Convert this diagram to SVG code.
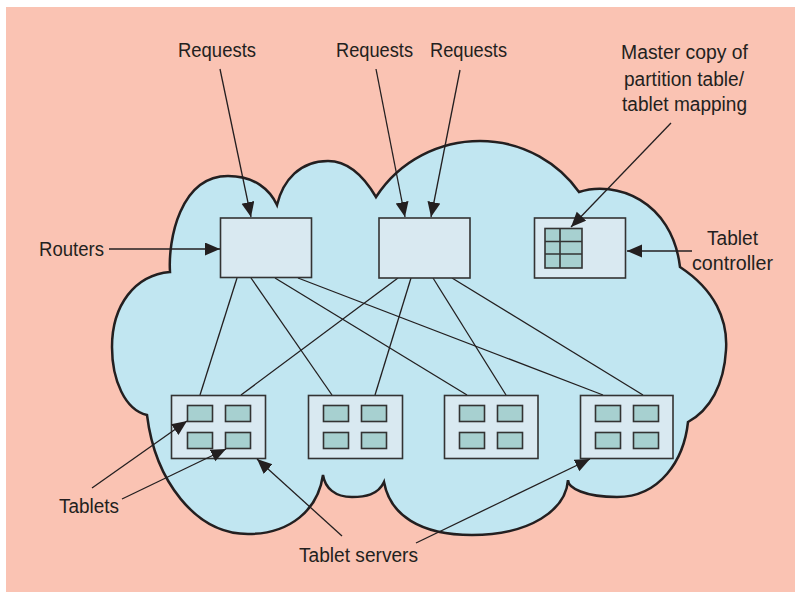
<svg xmlns="http://www.w3.org/2000/svg" width="795" height="593" viewBox="0 0 795 593">
<defs>
<style>
.bg{fill:#FAC3B3}
.cloud{fill:#C1E6F1;stroke:#231F20;stroke-width:2.5;stroke-linejoin:miter}
.box{fill:#D9E9F1;stroke:#333;stroke-width:1.6}
.tab{fill:#A7D0D0;stroke:#333;stroke-width:1.6}
.grid{fill:none;stroke:#333;stroke-width:1.6}
.ln{stroke:#231F20;stroke-width:1.3;fill:none}
.arr{stroke:#231F20;stroke-width:1.3;fill:none;marker-end:url(#ah)}
.t{font-family:"Liberation Sans Narrow","Liberation Sans",Arial,sans-serif;font-size:20px;fill:#231F20}
</style>
<marker id="ah" markerUnits="userSpaceOnUse" markerWidth="16" markerHeight="14" refX="15" refY="6.5" orient="auto">
<path d="M0,0 L15,6.5 L0,13 Z" fill="#231F20"/>
</marker>
</defs>
<rect class="bg" x="6" y="7" width="789" height="585"/>
<g id="cloud">
<path class="cloud" d="M170,272 C168,240 180,176 228,176 C255,176 270,190 277,205 C283,180 300,161 328,161 C350,161 366,180 376,197 C400,160 440,141 480,141 C525,141 560,165 579,192 C615,180 672,200 680,267 C715,290 728,320 726,350 C724,385 710,410 688,422 C684,460 660,497 617,497 C585,497 568,488 568,480 C566,510 530,535 472,535 C420,535 390,515 384,482 C378,495 365,497 352,497 C335,497 325,488 323,475 C318,510 290,534 248,534 C195,534 155,480 147,415 C125,410 112,380 112,347 C112,305 135,275 170,272 Z"/>
</g>
<g id="connectors">
<line class="ln" x1="237" y1="278" x2="200" y2="395"/>
<line class="ln" x1="251" y1="278" x2="332" y2="395"/>
<line class="ln" x1="275" y1="278" x2="467" y2="395"/>
<line class="ln" x1="298" y1="278" x2="603" y2="395"/>
<line class="ln" x1="398" y1="278" x2="241" y2="395"/>
<line class="ln" x1="411" y1="278" x2="375" y2="395"/>
<line class="ln" x1="433" y1="278" x2="506" y2="395"/>
<line class="ln" x1="452" y1="278" x2="643" y2="395"/>
</g>
<g id="router1"><rect class="box" x="220.5" y="218" width="91" height="59.5"/></g>
<g id="router2"><rect class="box" x="379" y="218" width="91" height="60"/></g>
<g id="controller">
<rect class="box" x="534.5" y="218" width="91" height="60"/>
<rect class="tab" x="545" y="228.5" width="37" height="39.5"/>
<path class="grid" d="M560,228.5 V268 M545,241.5 H582 M545,254 H582"/>
</g>
<g id="server1">
<rect class="box" x="171.5" y="395.5" width="94" height="63"/>
<rect class="tab" x="187.5" y="405.5" width="25" height="16"/>
<rect class="tab" x="225.5" y="405.5" width="25" height="16"/>
<rect class="tab" x="187.5" y="432.5" width="25" height="16"/>
<rect class="tab" x="225.5" y="432.5" width="25" height="16"/>
</g>
<g id="server2">
<rect class="box" x="308.5" y="395.5" width="94" height="63"/>
<rect class="tab" x="323.5" y="405.5" width="25" height="16"/>
<rect class="tab" x="361.5" y="405.5" width="25" height="16"/>
<rect class="tab" x="323.5" y="432.5" width="25" height="16"/>
<rect class="tab" x="361.5" y="432.5" width="25" height="16"/>
</g>
<g id="server3">
<rect class="box" x="444.5" y="395.5" width="93.5" height="63"/>
<rect class="tab" x="459.5" y="405.5" width="25" height="16"/>
<rect class="tab" x="497.5" y="405.5" width="25" height="16"/>
<rect class="tab" x="459.5" y="432.5" width="25" height="16"/>
<rect class="tab" x="497.5" y="432.5" width="25" height="16"/>
</g>
<g id="server4">
<rect class="box" x="580.5" y="395.5" width="92.5" height="63"/>
<rect class="tab" x="595.5" y="405.5" width="25" height="16"/>
<rect class="tab" x="633.5" y="405.5" width="25" height="16"/>
<rect class="tab" x="595.5" y="432.5" width="25" height="16"/>
<rect class="tab" x="633.5" y="432.5" width="25" height="16"/>
</g>
<g id="label-arrows">
<line class="arr" x1="220" y1="69" x2="251" y2="217"/>
<line class="arr" x1="376" y1="69" x2="405" y2="217"/>
<line class="arr" x1="460" y1="70" x2="431" y2="217"/>
<line class="arr" x1="671" y1="123" x2="571" y2="227"/>
<line class="arr" x1="109" y1="249" x2="220" y2="249"/>
<line class="arr" x1="692" y1="251" x2="627" y2="251"/>
<line class="arr" x1="92" y1="488" x2="187" y2="421"/>
<line class="arr" x1="122" y1="499" x2="226" y2="449"/>
<line class="arr" x1="342" y1="536" x2="257" y2="459"/>
<line class="arr" x1="416" y1="543" x2="590" y2="459"/>
</g>
<g id="labels">
<text class="t" x="178" y="57" textLength="78" lengthAdjust="spacingAndGlyphs">Requests</text>
<text class="t" x="336" y="57" textLength="77" lengthAdjust="spacingAndGlyphs">Requests</text>
<text class="t" x="430" y="57" textLength="77" lengthAdjust="spacingAndGlyphs">Requests</text>
<text class="t" x="621" y="59" textLength="127" lengthAdjust="spacingAndGlyphs">Master copy of</text>
<text class="t" x="624" y="85.5" textLength="120" lengthAdjust="spacingAndGlyphs">partition table/</text>
<text class="t" x="622" y="111" textLength="125" lengthAdjust="spacingAndGlyphs">tablet mapping</text>
<text class="t" x="39" y="256" textLength="65" lengthAdjust="spacingAndGlyphs">Routers</text>
<text class="t" x="707" y="245" textLength="51" lengthAdjust="spacingAndGlyphs">Tablet</text>
<text class="t" x="692" y="270" textLength="81" lengthAdjust="spacingAndGlyphs">controller</text>
<text class="t" x="59" y="513" textLength="60" lengthAdjust="spacingAndGlyphs">Tablets</text>
<text class="t" x="299" y="562" textLength="119" lengthAdjust="spacingAndGlyphs">Tablet servers</text>
</g>
</svg>
